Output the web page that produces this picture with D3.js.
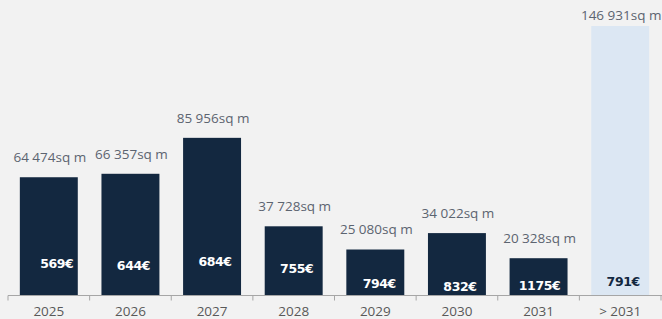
<!DOCTYPE html>
<html>
<head>
<meta charset="utf-8">
<script src="https://cdn.jsdelivr.net/npm/d3@7"></script>
<style>
  html, body { margin: 0; padding: 0; background: #f2f2f2; }
  svg { display: block; }
  .area { font-family: "Open Sans", sans-serif; font-size: 13.5px; fill: #5c6470; }
  .price { font-family: "DejaVu Sans", sans-serif; font-size: 12.5px; font-weight: 700; letter-spacing: -0.4px; }
  .x text { font-family: "Open Sans", sans-serif; font-size: 13.5px; fill: #595959; }
</style>
</head>
<body>
<svg width="662" height="319"></svg>
<script>
// categories and values
var years = ["2025", "2026", "2027", "2028", "2029", "2030", "2031", "> 2031"];
var areas = [64474, 66357, 85956, 37728, 25080, 34022, 20328, 146931];
var prices = [569, 644, 684, 755, 794, 832, 1175, 791];

// where each price label sits above the axis (layout only)
var priceRaise = [28, 26, 30, 23, 8, 5, 6, 10];
var priceShift = [8, 3, 3, 3, 4, 3, 1, 3];

var width = 662, height = 319, axisY = 295.5;

var svg = d3.select("svg");

var x = d3.scaleBand()
    .domain(years)
    .range([8, 661])
    .paddingInner(0.29)
    .paddingOuter(0.145);

var y = d3.scaleLinear()
    .domain([0, d3.max(areas)])
    .range([axisY, 26]);

var fmt = function (v) {
    return d3.format(",")(v).replace(/,/g, " ");
};

var data = years.map(function (d, i) {
    return { year: d, area: areas[i], price: prices[i], i: i };
});

// bars
svg.selectAll(".bar")
    .data(data)
    .enter().append("rect")
    .attr("class", "bar")
    .attr("x", function (d) { return x(d.year); })
    .attr("y", function (d) { return y(d.area); })
    .attr("width", x.bandwidth())
    .attr("height", function (d) { return axisY - y(d.area); })
    .attr("fill", function (d, i) { return i == years.length - 1 ? "#dce7f3" : "#132840"; });

// area labels above bars
svg.selectAll(".area")
    .data(data)
    .enter().append("text")
    .attr("class", "area")
    .attr("text-anchor", "middle")
    .attr("x", function (d) { return x(d.year) + x.bandwidth() / 2 + 1; })
    .attr("y", function (d) { return Math.max(y(d.area) - 15, 20); })
    .text(function (d) { return fmt(d.area) + "sq m"; });

// price labels inside bars
svg.selectAll(".price")
    .data(data)
    .enter().append("text")
    .attr("class", "price")
    .attr("text-anchor", "middle")
    .attr("x", function (d, i) { return x(d.year) + x.bandwidth() / 2 + priceShift[i]; })
    .attr("y", function (d, i) { return axisY - priceRaise[i]; })
    .attr("fill", function (d, i) { return i == years.length - 1 ? "#132840" : "#ffffff"; })
    .text(function (d) { return d.price + "€"; });

// x axis with ticks between bands
var xAxis = svg.append("g")
    .attr("class", "x")
    .attr("transform", "translate(0," + axisY + ")")
    .call(d3.axisBottom(x).tickSize(0).tickPadding(10.5));

xAxis.select(".domain").attr("stroke", "#a6a6a6").attr("d", "M8,0H662");
xAxis.selectAll(".tick text").attr("dy", "0.71em");

var edges = years.map(function (d) { return x(d) - x.step() * x.paddingInner() / 2; });
edges.push(x(years[years.length - 1]) + x.bandwidth() + x.step() * x.paddingInner() / 2);

xAxis.selectAll(".edge")
    .data(edges)
    .enter().append("line")
    .attr("class", "edge")
    .attr("x1", function (d) { return d; })
    .attr("x2", function (d) { return d; })
    .attr("y1", 0)
    .attr("y2", 5)
    .attr("stroke", "#a6a6a6");
</script>
</body>
</html>
